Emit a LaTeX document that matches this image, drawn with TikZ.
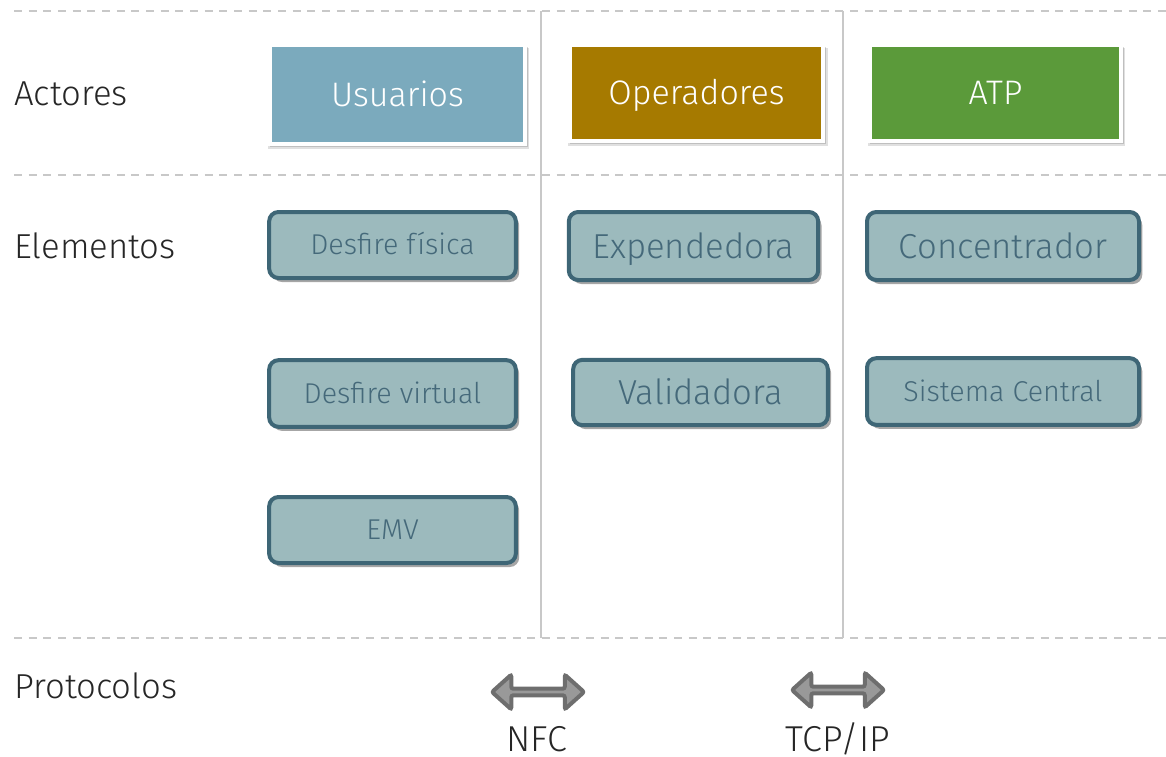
\documentclass[tikz,border=0pt]{standalone}
\usepackage{fontspec}
\setmainfont{Fira Sans}[UprightFont={* Light}]
\usetikzlibrary{shadows,shapes.arrows}
\definecolor{usu}{HTML}{7BAABD}
\definecolor{ope}{HTML}{A67A00}
\definecolor{atp}{HTML}{5B9A3A}
\definecolor{elfill}{HTML}{9CBABD}
\definecolor{elbord}{HTML}{3E6676}
\definecolor{eltext}{HTML}{45697A}
\definecolor{sep}{HTML}{C8C8C8}
\definecolor{arrfill}{HTML}{999999}
\definecolor{arrbord}{HTML}{6E6E6E}
\begin{document}
\begin{tikzpicture}[x=0.75pt,y=-0.75pt,
  actor/.style={draw=white,line width=3pt,inner sep=0pt,text=white,
    font=\fontsize{25.5}{30}\selectfont,text height=17.6pt,text depth=0pt,
    drop shadow={shadow xshift=1pt,shadow yshift=-3pt,shadow scale=1.025,opacity=0.12,fill=black},
    drop shadow={shadow xshift=1pt,shadow yshift=-2pt,shadow scale=1.012,opacity=0.15,fill=black}},
  elem/.style={draw=elbord,line width=3pt,fill=elfill,rounded corners=7pt,inner sep=0pt,
    text=eltext,
    drop shadow={shadow xshift=2.5pt,shadow yshift=-3pt,opacity=0.35,fill=black}},
  big/.style={font=\fontsize{26}{30}\selectfont,text height=18pt,text depth=0pt},
  small/.style={font=\fontsize{21.5}{25}\selectfont,text height=14.8pt,text depth=0pt},
  rowlabel/.style={anchor=west,inner sep=0pt,font=\fontsize{26}{30}\selectfont,text=black!85,
    text height=18pt,text depth=0pt},
  sepline/.style={draw=sep,line width=1pt,dash pattern=on 6pt off 5pt},
  vline/.style={draw=sep,line width=1.2pt},
  proto/.style={double arrow,double arrow head extend=6.3pt,double arrow tip angle=84,
    minimum height=69pt,minimum width=26pt,
    inner sep=0pt,fill=arrfill,draw=arrbord,line width=3pt,rounded corners=1.5pt},
  protolabel/.style={inner sep=0pt,font=\fontsize{27}{30}\selectfont,text=black!85,
    text height=18.6pt,text depth=0pt}]
\useasboundingbox (0,0) rectangle (1166,756);
% separators
\draw[sepline] (14,11) -- (1166,11);
\draw[sepline] (14,175) -- (1166,175);
\draw[sepline] (14,638) -- (1166,638);
\draw[vline] (541,11) -- (541,638);
\draw[vline] (843,11) -- (843,638);
% row labels
\node[rowlabel] (lact) at (14,94) {Actores};
\node[rowlabel] (lele) at (14,246) {Elementos};
\node[rowlabel] (lpro) at (14,686) {Protocolos};
% actors
\node[actor,fill=usu,minimum width=191pt,minimum height=74pt] (usuarios) at (397.5,94.5) {Usuarios};
\node[actor,fill=ope,minimum width=190pt,minimum height=72pt] (operadores) at (696.5,93) {Operadores};
\node[actor,fill=atp,minimum width=188pt,minimum height=72pt] (atp) at (995.5,93) {ATP};
% elements
\node[elem,small,minimum width=185pt,minimum height=49.5pt] (dfis) at (392.5,245) {Desfire física};
\node[elem,big,minimum width=187pt,minimum height=51pt] (exp) at (693.5,246) {Expendedora};
\node[elem,big,minimum width=204pt,minimum height=51pt] (conc) at (1003,246) {Concentrador};
\node[elem,small,minimum width=185pt,minimum height=50pt] (dvir) at (392.5,393.5) {Desfire virtual};
\node[elem,big,minimum width=191pt,minimum height=49pt] (val) at (700.5,392.5) {Validadora};
\node[elem,small,minimum width=204pt,minimum height=50pt] (sist) at (1003,391.5) {Sistema Central};
\node[elem,small,minimum width=185pt,minimum height=49.5pt] (emv) at (392.5,530) {EMV};
% protocols
\node[proto] (nfc) at (538,692) {};
\node[protolabel] (nfcl) at (537,739) {NFC};
\node[proto] (tcp) at (838,690) {};
\node[protolabel] (tcpl) at (838,739) {TCP/IP};
\end{tikzpicture}
\end{document}
